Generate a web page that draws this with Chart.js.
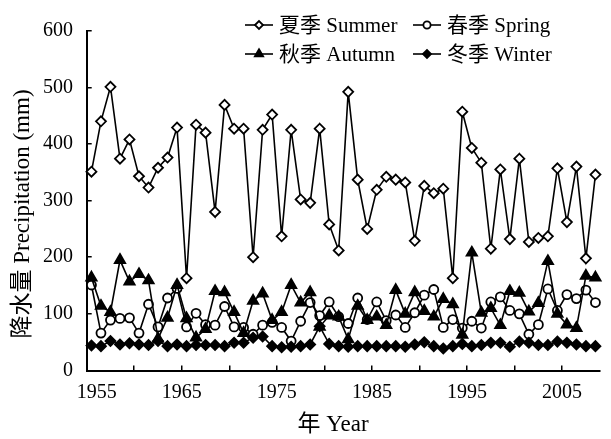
<!DOCTYPE html>
<html>
<head>
<meta charset="utf-8">
<script src="https://cdn.jsdelivr.net/npm/chart.js@4"></script>
<style>
  html, body { margin: 0; padding: 0; background: #fff; }
  #wrap { width: 611px; height: 439px; }
</style>
</head>
<body>
<div id="wrap"><canvas id="c" width="611" height="439"></canvas></div>
<script>
// Seasonal precipitation, 1955-2008 (mm)
const years = [];
for (let y = 1955; y <= 2008; y++) years.push(String(y));

const labeledYears = ['1955', '1965', '1975', '1985', '1995', '2005'];
const yTicks = [0, 100, 200, 300, 400, 500, 600];

const summer = [351, 440, 501, 374, 408, 343, 323, 358, 376, 429,
                163, 434, 420, 280, 469, 427, 427, 200, 425, 452,
                237, 425, 302, 296, 427, 258, 212, 492, 337, 250,
                319, 342, 337, 332, 229, 326, 313, 321, 163, 457,
                393, 367, 215, 355, 232, 374, 227, 234, 237, 357,
                262, 360, 198, 346];

const spring = [151, 66, 89, 92, 93, 66, 117, 77, 128, 145,
                77, 101, 81, 80, 113, 77, 76, 64, 80, 85,
                76, 52, 87, 120, 97, 121, 95, 83, 128, 90,
                121, 88, 98, 76, 102, 133, 143, 76, 90, 75,
                87, 75, 121, 130, 106, 100, 64, 81, 144, 106,
                134, 127, 142, 120];

const autumn = [164, 114, 103, 195, 157, 170, 159, 56, 93, 151,
                92, 58, 73, 140, 138, 103, 66, 123, 136, 89,
                103, 151, 120, 138, 77, 97, 95, 55, 114, 89,
                95, 80, 142, 100, 138, 105, 95, 126, 117, 63,
                208, 102, 110, 80, 140, 137, 104, 119, 193, 100,
                81, 75, 167, 164];

const winter = [44, 43, 52, 46, 48, 46, 45, 52, 43, 46,
                43, 45, 45, 45, 43, 49, 49, 58, 60, 43,
                41, 42, 43, 46, 78, 47, 43, 42, 43, 43,
                43, 43, 43, 42, 46, 50, 43, 39, 43, 47,
                43, 45, 49, 49, 42, 51, 49, 45, 45, 51,
                49, 46, 43, 43];

const xTitle = '年 Year';
const yTitle = '降水量 Precipitation (mm)';

const FONT = '"Liberation Serif", "Times New Roman", "Noto Sans CJK SC", serif';

const series = [
  { label: '夏季 Summer', data: summer, pointStyle: 'rectRot', radius: 5, fill: '#ffffff', order: 3 },
  { label: '春季 Spring', data: spring, pointStyle: 'circle', radius: 4.5, fill: '#ffffff', order: 2 },
  { label: '秋季 Autumn', data: autumn, pointStyle: 'triangle', radius: 6, fill: '#000000', order: 1 },
  { label: '冬季 Winter', data: winter, pointStyle: 'rectRot', radius: 5, fill: '#000000', order: 0 }
];

const datasets = series.map(s => ({
  label: s.label,
  data: s.data,
  borderColor: '#000',
  borderWidth: 1.6,
  pointStyle: s.pointStyle,
  pointRadius: s.radius,
  pointBackgroundColor: s.fill,
  pointBorderColor: '#000',
  pointBorderWidth: 1.8,
  tension: 0,
  order: s.order,
  clip: false
}));

// Two-column legend inside the plot area, plus the two axis titles
const annotations = {
  id: 'annotations',
  afterDraw(chart) {
    const ctx = chart.ctx;
    const cols = [245, 413];
    const rows = [25, 54];
    ctx.save();
    series.forEach((s, i) => {
      const x = cols[i % 2];
      const y = rows[Math.floor(i / 2)];
      ctx.strokeStyle = '#000';
      ctx.lineWidth = 1.6;
      ctx.beginPath();
      ctx.moveTo(x, y);
      ctx.lineTo(x + 28, y);
      ctx.stroke();
      ctx.fillStyle = s.fill;
      ctx.strokeStyle = '#000';
      ctx.lineWidth = 1.8;
      Chart.helpers.drawPoint(ctx, {
        pointStyle: s.pointStyle,
        radius: s.radius * 0.8,
        borderWidth: 1.8,
        rotation: 0
      }, x + 14, y);
      ctx.fillStyle = '#000';
      ctx.font = '21px ' + FONT;
      ctx.textAlign = 'left';
      ctx.textBaseline = 'middle';
      ctx.fillText(s.label, x + 34, y + 1);
    });

    ctx.fillStyle = '#000';
    ctx.font = '23px ' + FONT;
    ctx.textAlign = 'center';
    ctx.textBaseline = 'middle';
    ctx.fillText(xTitle, 333, 425);

    ctx.translate(23, 214);
    ctx.rotate(-Math.PI / 2);
    ctx.fillText(yTitle, 0, 0);
    ctx.restore();
  }
};

new Chart(document.getElementById('c'), {
  type: 'line',
  data: { labels: years, datasets },
  plugins: [annotations],
  options: {
    responsive: false,
    animation: false,
    events: [],
    layout: { padding: { top: 18, right: 6.7, left: 0, bottom: 0 } },
    plugins: { legend: { display: false }, tooltip: { enabled: false } },
    scales: {
      x: {
        type: 'category',
        offset: true,
        grid: {
          offset: true,
          drawOnChartArea: false,
          drawTicks: true,
          tickLength: -5,
          lineWidth: 1.5,
          color: ctx => (ctx.index % 5 === 0 || ctx.index === years.length) ? '#000' : 'rgba(0,0,0,0)'
        },
        border: { display: true, color: '#000', width: 2 },
        ticks: {
          autoSkip: false,
          maxRotation: 0,
          padding: 15.5,
          // decade labels sit on the tick marks between categories
          labelOffset: -4.8,
          color: '#000',
          font: { family: FONT, size: 20 },
          callback: function (value) {
            const lab = this.getLabelForValue(value);
            if (!labeledYears.includes(lab)) return '';
            // keep the first label clear of the y axis
            return value === 0 ? '\u2007\u2007' + lab : lab;
          }
        },
        afterFit: scale => { scale.height = 68.5; }
      },
      y: {
        min: 0,
        max: 600,
        afterBuildTicks: scale => { scale.ticks = yTicks.map(v => ({ value: v })); },
        grid: {
          drawOnChartArea: false,
          drawTicks: true,
          tickLength: -5,
          lineWidth: 1.5,
          color: '#000'
        },
        border: { display: true, color: '#000', width: 2 },
        ticks: {
          padding: 18.7,
          color: '#000',
          font: { family: FONT, size: 20 }
        },
        afterFit: scale => { scale.width = 86.7; }
      }
    }
  }
});
</script>
</body>
</html>
